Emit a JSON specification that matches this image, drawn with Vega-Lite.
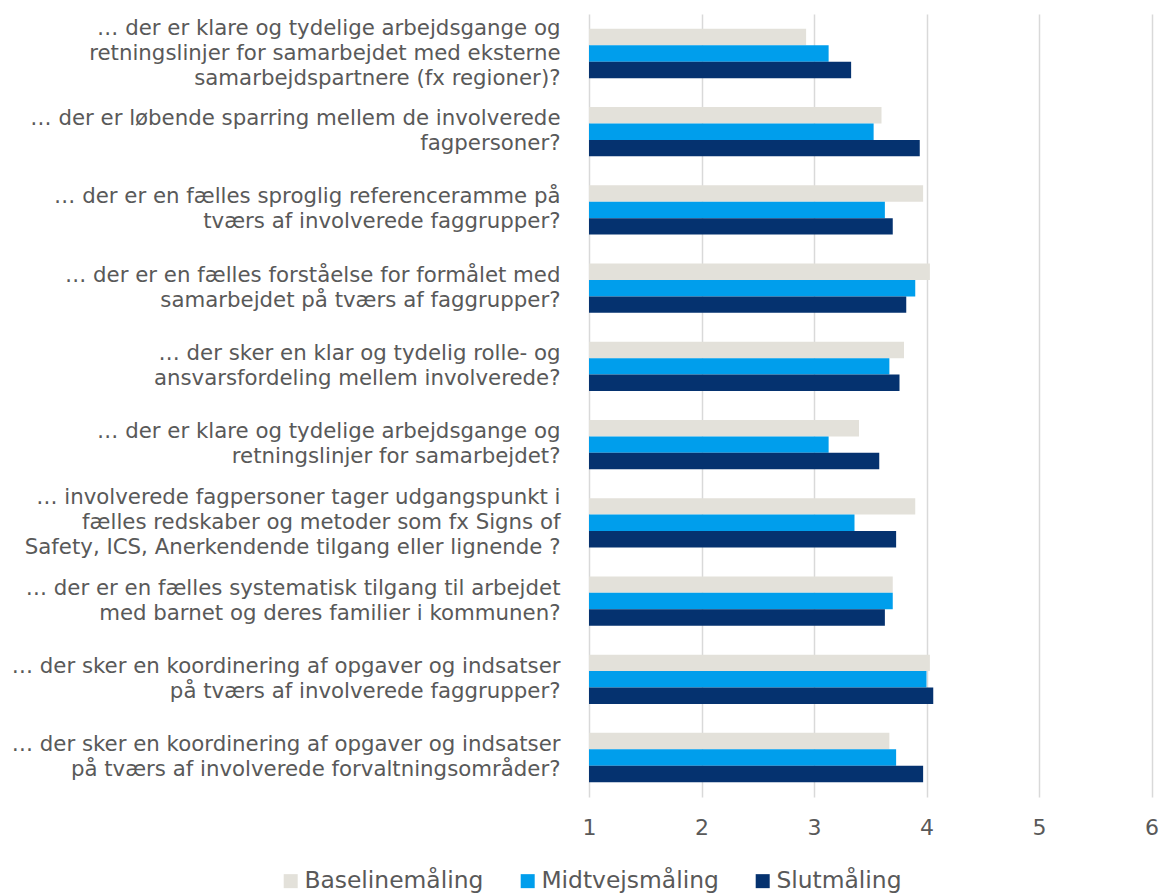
{
  "$schema": "https://vega.github.io/schema/vega-lite/v6.json",
  "width": 562.5,
  "height": 783,
  "autosize": {"type": "none"},
  "padding": {"left": 589, "top": 14, "right": 9.5, "bottom": 96},
  "background": "white",
  "config": {"view": {"stroke": null}, "font": "DejaVu Sans"},
  "data": {
    "values": [
      {"q": "… der er klare og tydelige arbejdsgange og|retningslinjer for samarbejdet med eksterne|samarbejdspartnere (fx regioner)?", "serie": "Baselinemåling", "value": 2.93},
      {"q": "… der er klare og tydelige arbejdsgange og|retningslinjer for samarbejdet med eksterne|samarbejdspartnere (fx regioner)?", "serie": "Midtvejsmåling", "value": 3.13},
      {"q": "… der er klare og tydelige arbejdsgange og|retningslinjer for samarbejdet med eksterne|samarbejdspartnere (fx regioner)?", "serie": "Slutmåling", "value": 3.33},
      {"q": "… der er løbende sparring mellem de involverede|fagpersoner?", "serie": "Baselinemåling", "value": 3.60},
      {"q": "… der er løbende sparring mellem de involverede|fagpersoner?", "serie": "Midtvejsmåling", "value": 3.53},
      {"q": "… der er løbende sparring mellem de involverede|fagpersoner?", "serie": "Slutmåling", "value": 3.94},
      {"q": "… der er en fælles sproglig referenceramme på|tværs af involverede faggrupper?", "serie": "Baselinemåling", "value": 3.97},
      {"q": "… der er en fælles sproglig referenceramme på|tværs af involverede faggrupper?", "serie": "Midtvejsmåling", "value": 3.63},
      {"q": "… der er en fælles sproglig referenceramme på|tværs af involverede faggrupper?", "serie": "Slutmåling", "value": 3.70},
      {"q": "…  der er en fælles forståelse for formålet med|samarbejdet på tværs af faggrupper?", "serie": "Baselinemåling", "value": 4.03},
      {"q": "…  der er en fælles forståelse for formålet med|samarbejdet på tværs af faggrupper?", "serie": "Midtvejsmåling", "value": 3.90},
      {"q": "…  der er en fælles forståelse for formålet med|samarbejdet på tværs af faggrupper?", "serie": "Slutmåling", "value": 3.82},
      {"q": "… der sker en klar og tydelig rolle- og|ansvarsfordeling mellem involverede?", "serie": "Baselinemåling", "value": 3.80},
      {"q": "… der sker en klar og tydelig rolle- og|ansvarsfordeling mellem involverede?", "serie": "Midtvejsmåling", "value": 3.67},
      {"q": "… der sker en klar og tydelig rolle- og|ansvarsfordeling mellem involverede?", "serie": "Slutmåling", "value": 3.76},
      {"q": "… der er klare og tydelige arbejdsgange og|retningslinjer for samarbejdet?", "serie": "Baselinemåling", "value": 3.40},
      {"q": "… der er klare og tydelige arbejdsgange og|retningslinjer for samarbejdet?", "serie": "Midtvejsmåling", "value": 3.13},
      {"q": "… der er klare og tydelige arbejdsgange og|retningslinjer for samarbejdet?", "serie": "Slutmåling", "value": 3.58},
      {"q": "… involverede fagpersoner tager udgangspunkt i|fælles redskaber og metoder som fx Signs of|Safety, ICS, Anerkendende tilgang eller lignende ?", "serie": "Baselinemåling", "value": 3.90},
      {"q": "… involverede fagpersoner tager udgangspunkt i|fælles redskaber og metoder som fx Signs of|Safety, ICS, Anerkendende tilgang eller lignende ?", "serie": "Midtvejsmåling", "value": 3.36},
      {"q": "… involverede fagpersoner tager udgangspunkt i|fælles redskaber og metoder som fx Signs of|Safety, ICS, Anerkendende tilgang eller lignende ?", "serie": "Slutmåling", "value": 3.73},
      {"q": "… der er en fælles systematisk tilgang til arbejdet|med barnet og deres familier i kommunen?", "serie": "Baselinemåling", "value": 3.70},
      {"q": "… der er en fælles systematisk tilgang til arbejdet|med barnet og deres familier i kommunen?", "serie": "Midtvejsmåling", "value": 3.70},
      {"q": "… der er en fælles systematisk tilgang til arbejdet|med barnet og deres familier i kommunen?", "serie": "Slutmåling", "value": 3.63},
      {"q": "… der sker en koordinering af opgaver og indsatser|på tværs af involverede faggrupper?", "serie": "Baselinemåling", "value": 4.03},
      {"q": "… der sker en koordinering af opgaver og indsatser|på tværs af involverede faggrupper?", "serie": "Midtvejsmåling", "value": 4.00},
      {"q": "… der sker en koordinering af opgaver og indsatser|på tværs af involverede faggrupper?", "serie": "Slutmåling", "value": 4.06},
      {"q": "… der sker en koordinering af opgaver og indsatser|på tværs af involverede forvaltningsområder?", "serie": "Baselinemåling", "value": 3.67},
      {"q": "… der sker en koordinering af opgaver og indsatser|på tværs af involverede forvaltningsområder?", "serie": "Midtvejsmåling", "value": 3.73},
      {"q": "… der sker en koordinering af opgaver og indsatser|på tværs af involverede forvaltningsområder?", "serie": "Slutmåling", "value": 3.97}
    ]
  },
  "mark": {"type": "bar"},
  "encoding": {
    "y": {
      "field": "q",
      "type": "nominal",
      "sort": null,
      "scale": {"paddingInner": 0.37, "paddingOuter": 0.19},
      "axis": {
        "title": null,
        "labelExpr": "split(datum.label, '|')",
        "labelFontSize": 21.3,
        "labelLineHeight": 25,
        "labelColor": "#595959",
        "labelPadding": 29,
        "labelLimit": 700,
        "labelOffset": {
          "condition": {"test": "length(split(datum.value, '|')) == 3", "value": -25},
          "value": -12.5
        },
        "domain": false,
        "ticks": false,
        "grid": false
      }
    },
    "yOffset": {
      "field": "serie",
      "type": "nominal",
      "sort": ["Baselinemåling", "Midtvejsmåling", "Slutmåling"],
      "scale": {"paddingInner": 0, "paddingOuter": 0}
    },
    "x": {
      "field": "value",
      "type": "quantitative",
      "scale": {"domain": [1, 6], "zero": false, "nice": false},
      "axis": {
        "title": null,
        "values": [1, 2, 3, 4, 5, 6],
        "grid": true,
        "gridColor": "#D9D9D9",
        "gridWidth": 1.5,
        "domain": false,
        "ticks": false,
        "labelFontSize": 22,
        "labelColor": "#595959",
        "labelPadding": 20,
        "labelFlush": false
      }
    },
    "x2": {"datum": 1},
    "color": {
      "field": "serie",
      "type": "nominal",
      "sort": ["Baselinemåling", "Midtvejsmåling", "Slutmåling"],
      "scale": {
        "domain": ["Baselinemåling", "Midtvejsmåling", "Slutmåling"],
        "range": ["#E3E1DA", "#009EEC", "#05326F"]
      },
      "legend": {
        "title": null,
        "orient": "none",
        "legendX": -310,
        "legendY": 855,
        "direction": "horizontal",
        "symbolType": "square",
        "symbolSize": 196,
        "symbolStrokeWidth": 0,
        "labelFontSize": 23.4,
        "labelLimit": 400,
        "labelColor": "#595959",
        "labelOffset": 2,
        "columnPadding": 32
      }
    }
  }
}
